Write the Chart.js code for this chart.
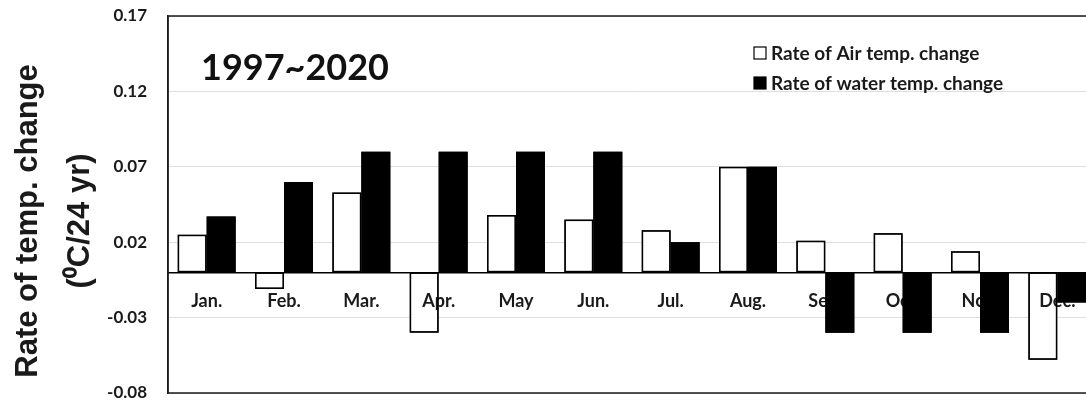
<!DOCTYPE html>
<html>
<head>
<meta charset="utf-8">
<script src="https://cdn.jsdelivr.net/npm/chart.js@4.4.0/dist/chart.umd.min.js"></script>
<style>
  html, body { margin: 0; padding: 0; background: #fff; overflow: hidden; }
  #wrap { width: 1096px; height: 401px; }
</style>
</head>
<body>
<div id="wrap"><canvas id="mycanvas"></canvas></div>
<script>
var months = ["Jan.", "Feb.", "Mar.", "Apr.", "May", "Jun.", "Jul.", "Aug.", "Sep.", "Oct.", "Nov.", "Dec."];
var airRate = [0.025, -0.011, 0.053, -0.040, 0.038, 0.035, 0.028, 0.070, 0.021, 0.026, 0.014, -0.058];
var waterRate = [0.037, 0.060, 0.080, 0.080, 0.080, 0.080, 0.020, 0.070, -0.040, -0.040, -0.040, -0.020];
var yTicks = [-0.08, -0.03, 0.02, 0.07, 0.12, 0.17];
var periodText = "1997~2020";
var yTitle = ["Rate of temp. change", "(\u2070C/24 yr)"];

// frame, period label, legend and rotated axis title
var decorPlugin = {
	id: "decor",
	beforeDatasetsDraw: function(chart) {
		var ctx = chart.ctx, a = chart.chartArea;
		ctx.save();
		ctx.strokeStyle = "#1a1a1a";
		ctx.lineWidth = 1.5;
		ctx.strokeRect(a.left, a.top, a.right - a.left, a.bottom - a.top);
		ctx.restore();
	},
	afterDraw: function(chart) {
		var ctx = chart.ctx;
		ctx.save();

		// month labels sit over the white bars but under the black ones
		ctx.strokeStyle = "#000";
		ctx.lineWidth = 1.5;
		chart.getDatasetMeta(0).data.forEach(function(el) {
			var top = Math.min(el.y, el.base), h = Math.abs(el.base - el.y);
			ctx.strokeRect(el.x - el.width / 2 + 0.75, top + 0.75, el.width - 1.5, h - 1.5);
		});
		chart.getDatasetMeta(1).controller.draw();

		ctx.fillStyle = "#111";
		ctx.font = "bold 36px Lato";
		ctx.textAlign = "left";
		ctx.textBaseline = "middle";
		ctx.fillText(periodText, 201, 68);

		// legend
		ctx.font = "bold 19px Lato";
		chart.data.datasets.forEach(function(ds, i) {
			var y = 53 + i * 30;
			ctx.fillStyle = ds.backgroundColor;
			ctx.fillRect(754, y - 6, 12, 12);
			ctx.strokeStyle = "#000";
			ctx.lineWidth = 1.2;
			ctx.strokeRect(754, y - 6, 12, 12);
			ctx.fillStyle = "#1a1a1a";
			ctx.fillText(ds.label, 771, y + 1);
		});

		// y axis title
		ctx.translate(0, 221);
		ctx.rotate(-Math.PI / 2);
		ctx.textAlign = "center";
		ctx.font = "bold 31px 'Liberation Sans'";
		ctx.fillStyle = "#1a1a1a";
		ctx.fillText(yTitle[0], 0, 28);
		ctx.fillText(yTitle[1], 0, 80);
		ctx.restore();
	}
};

var ctx = document.getElementById("mycanvas");
var BarGraph = new Chart(ctx, {
	type: "bar",
	data: {
		labels: months,
		datasets: [
			{
				label: "Rate of Air temp. change",
				backgroundColor: "#ffffff",
				borderColor: "#000000",
				borderWidth: 1.5,
				borderSkipped: false,
				categoryPercentage: 0.75,
				barPercentage: 1.0,
				data: airRate
			},
			{
				label: "Rate of water temp. change",
				backgroundColor: "#000000",
				borderColor: "#000000",
				borderWidth: 0,
				categoryPercentage: 0.75,
				barPercentage: 1.0,
				data: waterRate
			}
		]
	},
	plugins: [decorPlugin],
	options: {
		responsive: true,
		maintainAspectRatio: false,
		animation: false,
		layout: { padding: { left: 0, right: 0, top: 16, bottom: 8 } },
		plugins: {
			legend: { display: false },
			tooltip: { enabled: false }
		},
		scales: {
			x: {
				position: { y: 0 },
				afterFit: function(scale) { scale.paddingLeft = 0; scale.paddingRight = 0; },
				grid: { display: false, drawTicks: false },
				border: { display: true, color: "#000", width: 1.5 },
				ticks: {
					z: 1,
					padding: 18,
					color: "#1a1a1a",
					font: { family: "Lato", weight: "bold", size: 18 }
				}
			},
			y: {
				min: -0.08,
				max: 0.17,
				afterFit: function(scale) {
					scale.width = 168;
					scale.paddingTop = 0;
					scale.paddingBottom = 0;
				},
				afterBuildTicks: function(scale) {
					scale.ticks = yTicks.map(function(v) { return { value: v }; });
				},
				grid: { color: "#dedede", lineWidth: 1, drawTicks: false },
				border: { display: true, color: "#1a1a1a", width: 1.5 },
				ticks: {
					padding: 21,
					color: "#1a1a1a",
					font: { family: "Lato", weight: "bold", size: 17 },
					callback: function(v) { return v.toFixed(2); }
				}
			}
		}
	}
});
</script>
</body>
</html>
